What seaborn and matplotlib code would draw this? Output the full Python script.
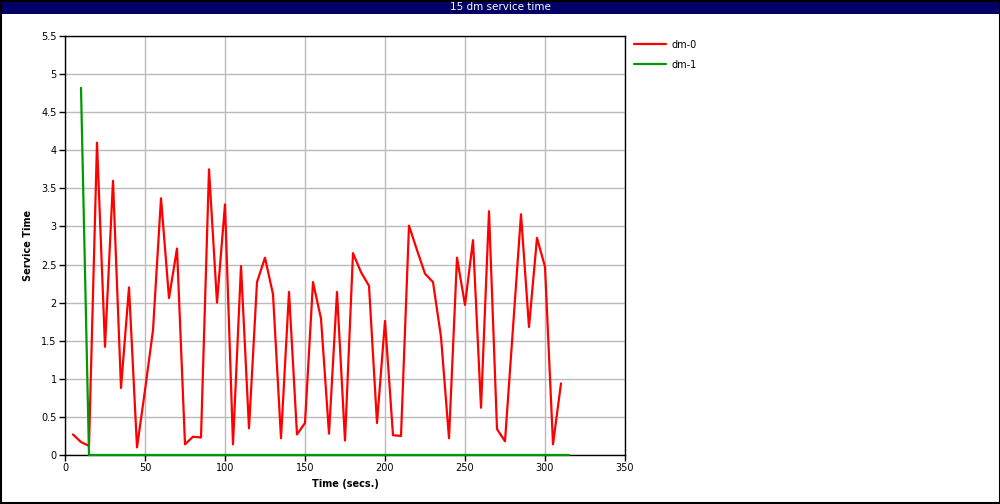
import numpy as np
import pandas as pd
import seaborn as sns
import matplotlib.pyplot as plt
from matplotlib.patches import Rectangle

# dm-0 sampled every 5 s from t=5 to t=310
dm0_time = list(range(5, 315, 5))
dm0_values = [0.27, 0.17, 0.12, 4.10, 1.42, 3.60, 0.88, 2.20, 0.10, 0.85,
              1.64, 3.37, 2.06, 2.71, 0.14, 0.24, 0.23, 3.75, 2.00, 3.29,
              0.14, 2.48, 0.35, 2.27, 2.59, 2.11, 0.22, 2.14, 0.27, 0.42,
              2.27, 1.79, 0.28, 2.14, 0.19, 2.65, 2.40, 2.22, 0.42, 1.76,
              0.26, 0.25, 3.01, 2.69, 2.38, 2.27, 1.55, 0.22, 2.59, 1.97,
              2.82, 0.62, 3.20, 0.34, 0.18, 1.67, 3.16, 1.68, 2.85, 2.47,
              0.14, 0.94]

# dm-1 sampled every 5 s from t=10 to t=315
dm1_time = list(range(10, 320, 5))
dm1_values = [4.82] + [0.0] * (len(dm1_time) - 1)

x_ticks = [0, 50, 100, 150, 200, 250, 300, 350]
y_ticks = [0, 0.5, 1, 1.5, 2, 2.5, 3, 3.5, 4, 4.5, 5, 5.5]

df = pd.concat([
    pd.DataFrame({'time': dm0_time, 'value': dm0_values, 'series': 'dm-0'}),
    pd.DataFrame({'time': dm1_time, 'value': dm1_values, 'series': 'dm-1'}),
])

sns.set_style('white')
plt.rcParams['font.family'] = ['DejaVu Sans']
plt.rcParams['text.color'] = 'black'
plt.rcParams['axes.labelcolor'] = 'black'
plt.rcParams['xtick.color'] = 'black'
plt.rcParams['ytick.color'] = 'black'

fig = plt.figure(figsize=(10, 5.04), dpi=100)
ax = fig.add_axes([0.065, 1 - 455 / 504, 0.56, (455 - 36) / 504])

sns.lineplot(data=df, x='time', y='value', hue='series',
             palette={'dm-0': '#ff0000', 'dm-1': '#009900'},
             linewidth=1.6, ax=ax, estimator=None, sort=False)
for ln in ax.get_lines():
    ln.set_clip_on(False)
    ln.set_zorder(3)

ax.set_xlim(0, 350)
ax.set_ylim(0, 5.5)
ax.set_xticks(x_ticks)
ax.set_yticks(y_ticks)
ax.set_xticklabels([f'{t:g}' for t in x_ticks], fontsize=7)
ax.set_yticklabels([f'{t:g}' for t in y_ticks], fontsize=7)
ax.grid(True, color='#bbbbbb', linewidth=1)
ax.set_axisbelow(True)
ax.tick_params(axis='both', direction='out', length=4, width=1, color='black',
               labelcolor='black', left=True, bottom=True, pad=2)
for s in ax.spines.values():
    s.set_color('black')
    s.set_linewidth(1)
    s.set_zorder(2)
ax.set_xlabel('Time (secs.)', fontsize=7, fontweight='bold', labelpad=4)
ax.set_ylabel('Service Time', fontsize=7, fontweight='bold', labelpad=6)

ax.legend(loc='upper left', bbox_to_anchor=(1.01, 1.0), frameon=False,
          fontsize=7, handlelength=3.2, handletextpad=0.6, labelspacing=1.0,
          borderaxespad=0.0)

# title bar and outer border
fig.patches.append(Rectangle((0, 1 - 14 / 504), 1, 14 / 504, transform=fig.transFigure,
                             facecolor='#000066', edgecolor='none', zorder=0))
fig.patches.append(Rectangle((0.0005, 0.001), 0.999, 0.998, transform=fig.transFigure,
                             facecolor='none', edgecolor='black', linewidth=1.5, zorder=5))
fig.text(0.5, 1 - 7.5 / 504, '15 dm service time', color='white', fontsize=7.5,
         ha='center', va='center')

fig.savefig('out.png', dpi=100)
